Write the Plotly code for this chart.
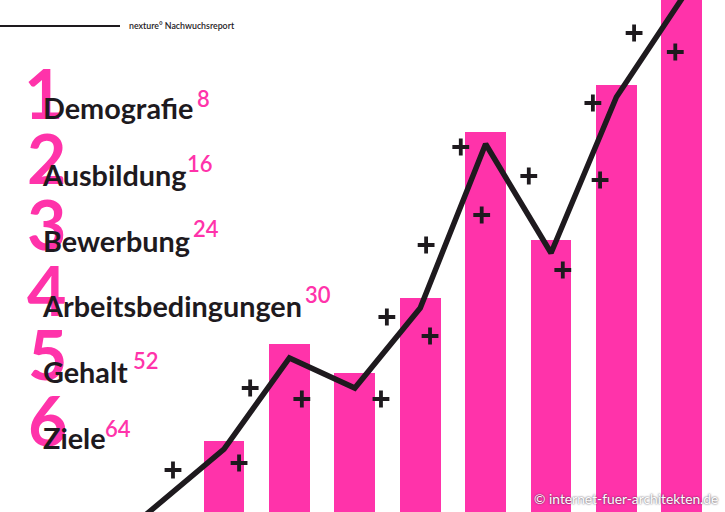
#!/usr/bin/python3
import plotly.graph_objects as go

PINK = "#ff33aa"
DARK = "#1e1a1e"
FONT = "Lato"

# left hand list
topics = ["Demografie", "Ausbildung", "Bewerbung", "Arbeitsbedingungen", "Gehalt", "Ziele"]
pages = ["8", "16", "24", "30", "52", "64"]
numbers = ["1", "2", "3", "4", "5", "6"]

# bars
bar_x = [0, 1, 2, 3, 4, 5, 6, 7]
bar_values = [71, 168, 139, 214, 380, 272, 427, 530]

# black line
line_x = [-1.2, 0, 1, 2, 3, 4, 5, 6, 7.12]
line_values = [-3, 63, 154, 124, 204, 368, 259, 415, 525]

# plus signs
plus_x = [-0.78, 0.23, 0.40, 1.19, 2.40, 2.49, 3.15, 3.09, 3.62, 3.94, 4.66, 5.18, 5.64, 5.75, 6.27, 6.90]
plus_values = [42, 49, 124, 113, 113, 195, 176, 267, 365, 297, 336, 242, 409, 332, 479, 460]

W = 725
H = 512

fig = go.Figure()
fig.add_trace(go.Bar(x=bar_x, y=bar_values, width=0.625, marker=dict(color=PINK, line_width=0)))
fig.add_trace(go.Scatter(x=line_x, y=line_values, mode="lines", line=dict(color=DARK, width=5.5)))
fig.add_trace(go.Scatter(x=plus_x, y=plus_values, mode="markers",
	marker=dict(symbol="cross-thin", size=12, line=dict(color=DARK, width=3.8))))


def px_note(text, px, py, size, color, weight=400, anchor="left", shadow=None):
	fig.add_annotation(text=text, xref="paper", yref="paper", x=px / W, y=1 - py / H,
		xanchor=anchor, yanchor="middle", showarrow=False,
		font=dict(family=FONT, size=size, color=color, weight=weight, shadow=shadow))


# where each row of the list sits, in pixels
number_x = [22, 25, 25, 25, 26, 26]
number_y = [92, 157, 223, 289, 353, 419]
topic_x = [41, 40, 41, 40, 41, 41]
topic_y = [108, 175, 241, 306, 372, 438]
page_x = [195, 185, 191, 303, 131, 103]
page_y = [98, 163, 228, 294, 360, 428]

for i in range(len(topics)):
	px_note(numbers[i], number_x[i], number_y[i], 68, PINK, 700)
for i in range(len(topics)):
	px_note(topics[i], topic_x[i], topic_y[i], 28.8, DARK, 700)
	px_note(pages[i], page_x[i], page_y[i], 22, PINK, 600)

px_note("nexture° Nachwuchsreport", 127, 25, 8.8, DARK, 600)
px_note("© internet-fuer-architekten.de", 532, 498, 13.8, "#ffffff", 400,
	shadow="0px 0px 2px #302838")

fig.add_shape(type="line", xref="paper", yref="paper", x0=0, x1=120 / W, y0=1 - 26 / H, y1=1 - 26 / H,
	line=dict(color=DARK, width=2))

fig.update_layout(width=W, height=H, margin=dict(l=0, r=0, t=0, b=0), showlegend=False,
	paper_bgcolor="white", plot_bgcolor="white", bargap=0)
fig.update_xaxes(range=[-3.425, 7.66], visible=False)
fig.update_yaxes(range=[0, 512], visible=False)

# the page has a default margin, the chart should fill the window
fig.write_html("out.html", config=dict(displayModeBar=False),
	post_script="document.body.style.margin = '0'; document.body.style.overflow = 'hidden';")
